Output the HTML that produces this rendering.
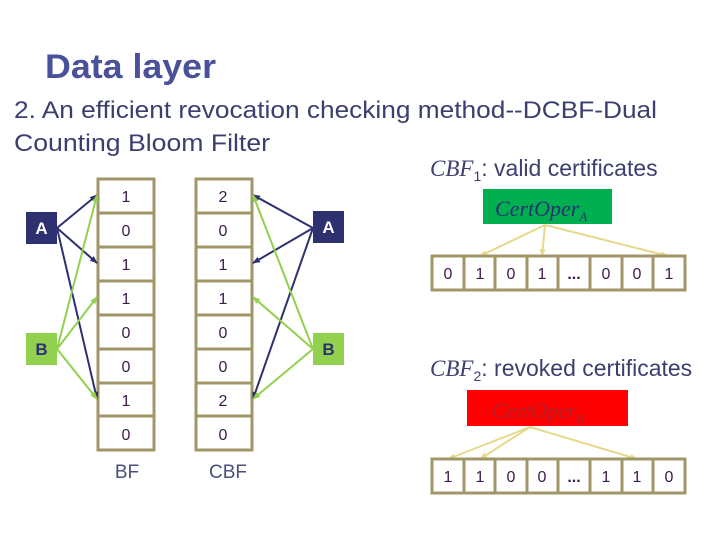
<!DOCTYPE html>
<html><head><meta charset="utf-8"><style>
html,body{margin:0;padding:0;background:#fff;}
svg{display:block;font-family:"Liberation Sans",sans-serif;}
</style></head><body>
<svg width="720" height="540" viewBox="0 0 720 540" xmlns="http://www.w3.org/2000/svg">
<defs>
<marker id="an" markerWidth="8" markerHeight="8" refX="7" refY="4" orient="auto" markerUnits="userSpaceOnUse"><path d="M0,1 L8,4 L0,7 z" fill="#2e3170"/></marker>
<marker id="ag" markerWidth="8" markerHeight="8" refX="7" refY="4" orient="auto" markerUnits="userSpaceOnUse"><path d="M0,1 L8,4 L0,7 z" fill="#92d050"/></marker>
<marker id="ay" markerWidth="8" markerHeight="8" refX="7" refY="4" orient="auto" markerUnits="userSpaceOnUse"><path d="M0,1 L8,4 L0,7 z" fill="#e6d98c"/></marker>
</defs>
<text x="45" y="78" font-size="34" font-weight="bold" fill="#4a519a" textLength="171" lengthAdjust="spacingAndGlyphs">Data layer</text>
<text x="14" y="118" font-size="24" fill="#3b3f6e" textLength="643" lengthAdjust="spacingAndGlyphs">2. An efficient revocation checking method--DCBF-Dual</text>
<text x="14" y="151" font-size="24" fill="#3b3f6e" textLength="256" lengthAdjust="spacingAndGlyphs">Counting Bloom Filter</text>

<!-- BF columns -->
<g stroke="#a09668" stroke-width="3" fill="#fff">
<rect x="98" y="179" width="56" height="271"/>
<rect x="196" y="179" width="56" height="271"/>
<line x1="98" y1="213" x2="154" y2="213"/><line x1="98" y1="247" x2="154" y2="247"/><line x1="98" y1="281" x2="154" y2="281"/><line x1="98" y1="315" x2="154" y2="315"/><line x1="98" y1="349" x2="154" y2="349"/><line x1="98" y1="383" x2="154" y2="383"/><line x1="98" y1="416" x2="154" y2="416"/>
<line x1="196" y1="213" x2="252" y2="213"/><line x1="196" y1="247" x2="252" y2="247"/><line x1="196" y1="281" x2="252" y2="281"/><line x1="196" y1="315" x2="252" y2="315"/><line x1="196" y1="349" x2="252" y2="349"/><line x1="196" y1="383" x2="252" y2="383"/><line x1="196" y1="416" x2="252" y2="416"/>
</g>
<g font-size="16" fill="#3c1a4a" text-anchor="middle">
<text x="126" y="202">1</text><text x="126" y="236">0</text><text x="126" y="270">1</text><text x="126" y="304">1</text><text x="126" y="338">0</text><text x="126" y="372">0</text><text x="126" y="406">1</text><text x="126" y="440">0</text>
<text x="223" y="202">2</text><text x="223" y="236">0</text><text x="223" y="270">1</text><text x="223" y="304">1</text><text x="223" y="338">0</text><text x="223" y="372">0</text><text x="223" y="406">2</text><text x="223" y="440">0</text>
</g>
<text x="127" y="478" font-size="19" fill="#4a4e7a" text-anchor="middle">BF</text>
<text x="228" y="478" font-size="19" fill="#4a4e7a" text-anchor="middle">CBF</text>

<!-- arrows left -->
<g stroke-width="2" fill="none">
<line x1="57" y1="228" x2="97" y2="195" stroke="#2e3170" marker-end="url(#an)"/>
<line x1="57" y1="228" x2="97" y2="263" stroke="#2e3170" marker-end="url(#an)"/>
<line x1="57" y1="228" x2="97" y2="399" stroke="#2e3170" marker-end="url(#an)"/>
<line x1="57" y1="349" x2="97" y2="195" stroke="#92d050" marker-end="url(#ag)"/>
<line x1="57" y1="349" x2="97" y2="297" stroke="#92d050" marker-end="url(#ag)"/>
<line x1="57" y1="349" x2="97" y2="399" stroke="#92d050" marker-end="url(#ag)"/>
<line x1="313" y1="228" x2="253" y2="195" stroke="#2e3170" marker-end="url(#an)"/>
<line x1="313" y1="228" x2="253" y2="263" stroke="#2e3170" marker-end="url(#an)"/>
<line x1="313" y1="228" x2="253" y2="399" stroke="#2e3170" marker-end="url(#an)"/>
<line x1="313" y1="349" x2="253" y2="195" stroke="#92d050" marker-end="url(#ag)"/>
<line x1="313" y1="349" x2="253" y2="297" stroke="#92d050" marker-end="url(#ag)"/>
<line x1="313" y1="349" x2="253" y2="399" stroke="#92d050" marker-end="url(#ag)"/>
</g>
<rect x="26" y="212" width="31" height="32" fill="#2e3170"/>
<text x="41.5" y="234" font-size="17" font-weight="bold" fill="#fff" text-anchor="middle">A</text>
<rect x="26" y="333" width="31" height="32" fill="#92d050"/>
<text x="41.5" y="355" font-size="17" font-weight="bold" fill="#2e3170" text-anchor="middle">B</text>
<rect x="313" y="211" width="31" height="32" fill="#2e3170"/>
<text x="328.5" y="233" font-size="17" font-weight="bold" fill="#fff" text-anchor="middle">A</text>
<rect x="313" y="333" width="31" height="32" fill="#92d050"/>
<text x="328.5" y="355" font-size="17" font-weight="bold" fill="#2e3170" text-anchor="middle">B</text>

<!-- right side -->
<text x="430" y="176" font-size="23" fill="#3b3f6e"><tspan font-family="Liberation Serif" font-style="italic">CBF</tspan><tspan font-size="14" dy="5">1</tspan><tspan dy="-5">: valid certificates</tspan></text>
<rect x="483" y="189" width="129" height="35" fill="#00b050"/>
<text x="495" y="216" font-size="22" font-family="Liberation Serif" font-style="italic" fill="#2e3170">CertOper<tspan font-size="13" dy="5">A</tspan></text>
<g stroke-width="2" fill="none" stroke="#e6d98c">
<line x1="545" y1="225" x2="480" y2="256" marker-end="url(#ay)"/>
<line x1="545" y1="225" x2="542" y2="256" marker-end="url(#ay)"/>
<line x1="545" y1="225" x2="668" y2="256" marker-end="url(#ay)"/>
</g>
<g stroke="#a09668" stroke-width="3" fill="#fff">
<rect x="432" y="256" width="253" height="34"/>
<line x1="464" y1="256" x2="464" y2="290"/><line x1="495" y1="256" x2="495" y2="290"/><line x1="527" y1="256" x2="527" y2="290"/><line x1="558" y1="256" x2="558" y2="290"/><line x1="590" y1="256" x2="590" y2="290"/><line x1="622" y1="256" x2="622" y2="290"/><line x1="653" y1="256" x2="653" y2="290"/>
</g>
<g font-size="16" fill="#3c1a4a" text-anchor="middle">
<text x="448" y="279">0</text><text x="480" y="279">1</text><text x="511" y="279">0</text><text x="542" y="279">1</text><text x="574" y="279" font-weight="bold">...</text><text x="606" y="279">0</text><text x="637" y="279">0</text><text x="669" y="279">1</text>
</g>

<text x="430" y="376" font-size="23" fill="#3b3f6e"><tspan font-family="Liberation Serif" font-style="italic">CBF</tspan><tspan font-size="14" dy="5">2</tspan><tspan dy="-5">: revoked certificates</tspan></text>
<rect x="467" y="390" width="161" height="36" fill="#ff0000"/>
<text x="492" y="418" font-size="22" font-family="Liberation Serif" font-style="italic" fill="#b0202a">CertOper<tspan font-size="13" dy="5">B</tspan></text>
<g stroke-width="2" fill="none" stroke="#e6d98c">
<line x1="530" y1="427" x2="448" y2="459" marker-end="url(#ay)"/>
<line x1="530" y1="427" x2="480" y2="459" marker-end="url(#ay)"/>
<line x1="530" y1="427" x2="637" y2="459" marker-end="url(#ay)"/>
</g>
<g stroke="#a09668" stroke-width="3" fill="#fff">
<rect x="432" y="459" width="253" height="34"/>
<line x1="464" y1="459" x2="464" y2="493"/><line x1="495" y1="459" x2="495" y2="493"/><line x1="527" y1="459" x2="527" y2="493"/><line x1="558" y1="459" x2="558" y2="493"/><line x1="590" y1="459" x2="590" y2="493"/><line x1="622" y1="459" x2="622" y2="493"/><line x1="653" y1="459" x2="653" y2="493"/>
</g>
<g font-size="16" fill="#3c1a4a" text-anchor="middle">
<text x="448" y="482">1</text><text x="480" y="482">1</text><text x="511" y="482">0</text><text x="542" y="482">0</text><text x="574" y="482" font-weight="bold">...</text><text x="606" y="482">1</text><text x="637" y="482">1</text><text x="669" y="482">0</text>
</g>
</svg>
</body></html>
